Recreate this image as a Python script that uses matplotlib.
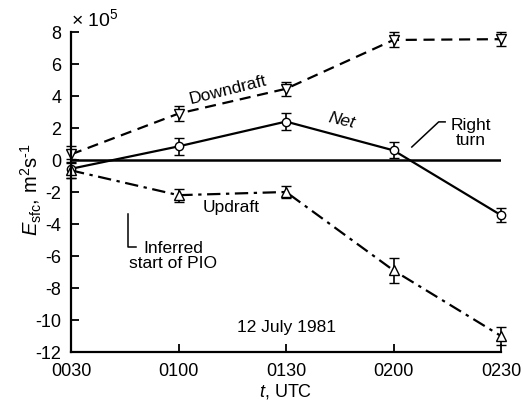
import matplotlib.pyplot as plt
import numpy as np

plt.rcParams['font.family'] = ['Liberation Sans', 'DejaVu Sans']
plt.rcParams['mathtext.fontset'] = 'custom'
plt.rcParams['mathtext.rm'] = 'Liberation Sans'
plt.rcParams['mathtext.it'] = 'Liberation Sans:italic'
plt.rcParams['axes.unicode_minus'] = False

times = ['0030', '0100', '0130', '0200', '0230']
downdraft = [0.35, 2.9, 4.45, 7.5, 7.55]
downdraft_err = [0.55, 0.45, 0.45, 0.47, 0.45]
net = [-0.55, 0.85, 2.4, 0.6, -3.45]
net_err = [0.6, 0.55, 0.55, 0.5, 0.45]
updraft = [-0.65, -2.2, -2.0, -6.9, -11.0]
updraft_err = [0.5, 0.4, 0.4, 0.8, 0.55]

x = np.arange(len(times))

fig = plt.figure(figsize=(5.23, 4.02), dpi=100)
ax = fig.add_axes([0.1358, 0.1219, 0.8222, 0.7961])

ax.axhline(0, color='black', lw=1.8)
style = dict(color='black', lw=1.6, mfc='white', mec='black', capsize=3.5,
             elinewidth=1.2, clip_on=False)
ax.errorbar(x, downdraft, yerr=downdraft_err, ls=(0, (5, 3)), marker='v', ms=7, **style)
ax.errorbar(x, net, yerr=net_err, ls='-', marker='o', ms=6, **style)
ax.errorbar(x, updraft, yerr=updraft_err, ls=(0, (6, 2.5, 1.5, 2.5)), marker='^', ms=7, **style)

ax.set_xlim(0, 4)
ax.set_ylim(-12, 8)
ax.set_xticks(x)
ax.set_xticklabels(times)
ax.set_yticks(np.arange(-12, 9, 2))
ax.tick_params(direction='in', length=6, width=1.3, labelsize=13, pad=7)
for s in ['top', 'right']:
    ax.spines[s].set_visible(False)
for s in ['left', 'bottom']:
    ax.spines[s].set_linewidth(1.6)

ax.set_xlabel('$t$, UTC', fontsize=13, labelpad=2)
ax.set_ylabel('$E_{\\rm sfc}$, m$^2$s$^{\\text{-1}}$', fontsize=14.5)
ax.yaxis.set_label_coords(-0.063, 0.51)
ax.text(0.0, 8.2, '× 10$^5$', fontsize=14, ha='left', va='bottom')

ax.text(1.46, 4.45, 'Downdraft', fontsize=12.5, rotation=14, ha='center', va='center')
ax.text(2.52, 2.5, 'Net', fontsize=12.5, style='italic', rotation=-13, ha='center', va='center')
ax.text(1.49, -2.9, 'Updraft', fontsize=12.5, ha='center', va='center')
ax.text(2.0, -10.4, '12 July 1981', fontsize=12.5, ha='center', va='center')
ax.text(3.72, 1.75, 'Right\nturn', fontsize=12.5, ha='center', va='center', linespacing=1.0)
ax.plot([3.17, 3.42, 3.48], [0.81, 2.38, 2.38], color='black', lw=1.1)
ax.text(0.95, -5.94, 'Inferred\nstart of PIO', fontsize=12.5, ha='center', va='center', linespacing=1.0)
ax.plot([0.53, 0.53, 0.6], [-3.4, -5.44, -5.44], color='black', lw=1.1)

fig.savefig('out.png', dpi=100)
